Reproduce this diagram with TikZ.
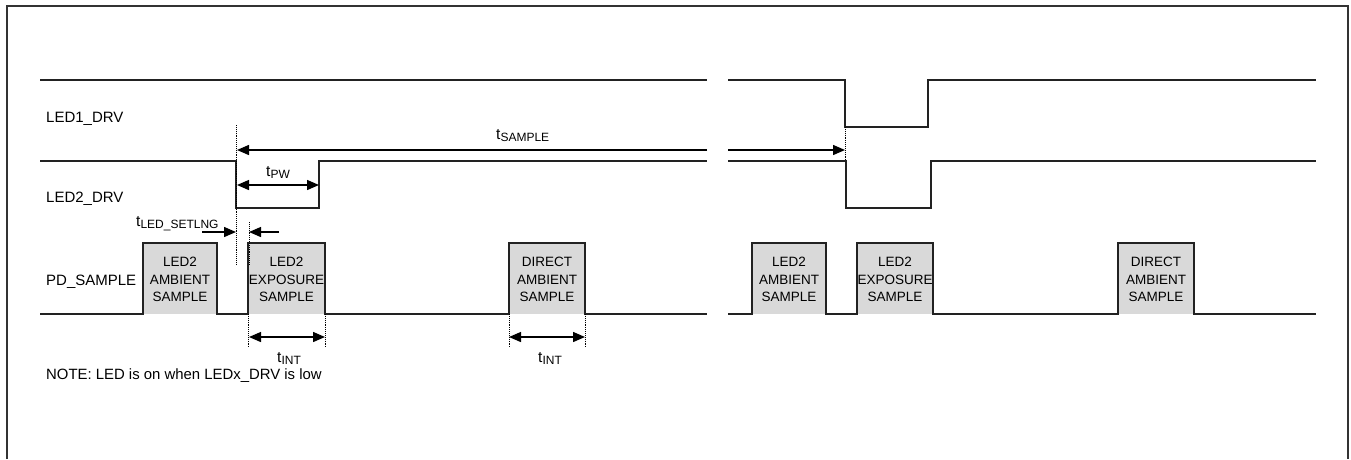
\documentclass[tikz,border=0pt]{standalone}
\usepackage{fontspec}
\setmainfont{Liberation Sans}
\usetikzlibrary{arrows.meta}
\definecolor{boxgray}{HTML}{D9D9D9}
\definecolor{framecol}{HTML}{333333}
\definecolor{sigcol}{HTML}{222222}
\newcommand{\tsubscr}[1]{t\raisebox{-2.5pt}{\fontsize{12}{12}\selectfont #1}}
\tikzset{
  sig/.style={line width=1.4pt, draw=sigcol, line join=miter},
  dotline/.style={line width=0.9pt, densely dotted},
  arr/.style={line width=1.4pt, -{Triangle[length=12pt,width=10pt]}},
  darr/.style={line width=1.4pt, {Triangle[length=12pt,width=10pt]}-{Triangle[length=12pt,width=10pt]}},
  lbl/.style={anchor=base west, inner sep=0pt, font=\fontsize{15}{18}\selectfont},
  tlbl/.style={anchor=base west, inner sep=0pt, font=\fontsize{15.5}{18}\selectfont},
  boxtxt/.style={align=center, inner sep=0pt, font=\fontsize{13.5}{17.5}\selectfont},
  sampbox/.style={fill=boxgray, draw=none},
}
\begin{document}
\begin{tikzpicture}[x=1pt,y=-1pt]
\useasboundingbox (0,0) rectangle (1351,459);
% frame
\draw[framecol, line width=2.2pt] (7,459) -- (7,6) -- (1348,6) -- (1348,459);

% signal labels
\node[lbl] (l1) at (46,122) {LED1\_DRV};
\node[lbl] (l2) at (46,202) {LED2\_DRV};
\node[lbl] (l3) at (46,285) {PD\_SAMPLE};
\node[lbl, font=\fontsize{14.9}{17}\selectfont] (note) at (46,379) {NOTE: LED is on when LEDx\_DRV is low};

% LED1_DRV
\draw[sig] (40,80) -- (707,80);
\draw[sig] (728,80) -- (845,80) -- (845,127) -- (928,127) -- (928,80) -- (1316,80);
% LED2_DRV
\draw[sig] (40,161) -- (236,161) -- (236,208) -- (319,208) -- (319,161) -- (707,161);
\draw[sig] (728,161) -- (846,161) -- (846,208) -- (931,208) -- (931,161) -- (1316,161);

% sample boxes
\fill[sampbox] (143,243) rectangle (217,314);
\fill[sampbox] (248,243) rectangle (325,314);
\fill[sampbox] (509,243) rectangle (585,314);
\fill[sampbox] (752,243) rectangle (826,314);
\fill[sampbox] (857,243) rectangle (933,314);
\fill[sampbox] (1118,243) rectangle (1194,314);
\draw[sig] (40,314) -- (143,314) -- (143,243) -- (217,243) -- (217,314) -- (248,314) -- (248,243) -- (325,243) -- (325,314) -- (509,314) -- (509,243) -- (585,243) -- (585,314) -- (707,314);
\draw[sig] (728,314) -- (752,314) -- (752,243) -- (826,243) -- (826,314) -- (857,314) -- (857,243) -- (933,243) -- (933,314) -- (1118,314) -- (1118,243) -- (1194,243) -- (1194,314) -- (1316,314);

\node[boxtxt] (b1) at (180,279.5) {LED2\\AMBIENT\\SAMPLE};
\node[boxtxt] (b2) at (286.5,279.5) {LED2\\EXPOSURE\\SAMPLE};
\node[boxtxt] (b3) at (547,279.5) {DIRECT\\AMBIENT\\SAMPLE};
\node[boxtxt] (b4) at (789,279.5) {LED2\\AMBIENT\\SAMPLE};
\node[boxtxt] (b5) at (895,279.5) {LED2\\EXPOSURE\\SAMPLE};
\node[boxtxt] (b6) at (1156,279.5) {DIRECT\\AMBIENT\\SAMPLE};

% dotted guide lines
\coordinate (d1t) at (236.5,125); \coordinate (d1b) at (236.5,264);
\coordinate (d2t) at (249,222); \coordinate (d2b) at (249,264);
\coordinate (d3t) at (845,127); \coordinate (d3b) at (845,161);
\draw[dotline] (d1t) -- (d1b);
\draw[dotline] (d2t) -- (d2b);
\draw[dotline] (d3t) -- (d3b);
\draw[dotline] (248,314) -- (248,347);
\draw[dotline] (325,314) -- (325,347);
\draw[dotline] (509,314) -- (509,347);
\draw[dotline] (585,314) -- (585,347);

% t_SAMPLE
\coordinate (s1a) at (707,150); \coordinate (s1b) at (237,150);
\coordinate (s2a) at (728,150); \coordinate (s2b) at (845,150);
\draw[arr] (s1a) -- (s1b);
\draw[arr] (s2a) -- (s2b);
\node[tlbl] (tsamp) at (496,139) {\tsubscr{SAMPLE}};

% t_PW
\coordinate (pwa) at (237,185); \coordinate (pwb) at (319,185);
\draw[darr] (pwa) -- (pwb);
\node[tlbl] (tpw) at (266,176) {\tsubscr{PW}};

% t_LED_SETLNG
\coordinate (sa) at (202,232); \coordinate (sb) at (236,232);
\coordinate (sc) at (279,232); \coordinate (sd) at (249,232);
\draw[arr] (sa) -- (sb);
\draw[arr] (sc) -- (sd);
\node[tlbl] (tset) at (136,226) {\tsubscr{LED\_SETLNG}};

% t_INT
\coordinate (i1a) at (249,337); \coordinate (i1b) at (325,337);
\coordinate (i2a) at (509,337); \coordinate (i2b) at (585,337);
\draw[darr] (i1a) -- (i1b);
\draw[darr] (i2a) -- (i2b);
\node[tlbl] (tint1) at (277,362) {\tsubscr{INT}};
\node[tlbl] (tint2) at (538,362) {\tsubscr{INT}};
\end{tikzpicture}
\end{document}
